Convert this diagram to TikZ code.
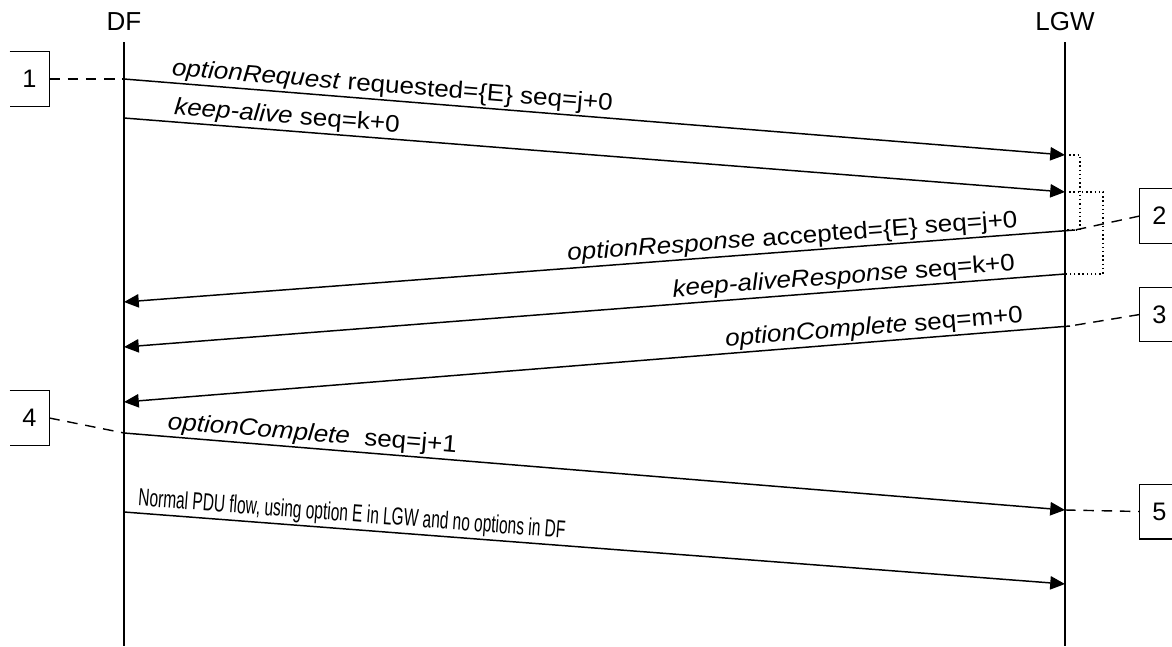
\documentclass[tikz,border=0pt]{standalone}
\usepackage{fontspec}
\setmainfont{Liberation Sans}
\newfontfamily\msgfont[FakeStretch=1.09]{Liberation Sans}
\newfontfamily\pdufont[FakeStretch=0.63]{Liberation Sans}
\usetikzlibrary{arrows.meta}

\tikzset{
  msg/.style={line width=1.05pt, -{Triangle[length=10.5pt,width=9.5pt]}},
  lifeline/.style={line width=1.05pt},
  lbl/.style={sloped, above, inner sep=1.2pt, font=\msgfont\fontsize{17}{19}\selectfont},
  refline/.style={dash pattern=on 7.5pt off 5.5pt, line width=1pt},
  holdline/.style={dotted, line width=1pt},
  numbox/.style={minimum width=0.975cm, minimum height=1.35cm, inner sep=0pt, font=\fontsize{18}{20}\selectfont},
}

\begin{document}
\begin{tikzpicture}[x=0.025cm, y=-0.025cm]
\useasboundingbox (0,0) rectangle (1172,646);
\clip (0,0) rectangle (1172,646);

% lifelines
\node [font=\fontsize{18.5}{20}\selectfont] (df) at (124,22) {DF};
\node [font=\fontsize{18.5}{20}\selectfont] (lgw) at (1065,22) {LGW};
\coordinate (dft) at (124,42);
\coordinate (dfb) at (124,646);
\coordinate (lgwt) at (1065,42);
\coordinate (lgwb) at (1065,646);
\draw [lifeline] (dft) -- (dfb);
\draw [lifeline] (lgwt) -- (lgwb);

% message ends
\coordinate (m1s) at (124,79);   \coordinate (m1e) at (1065,155);
\coordinate (m2s) at (124,118);  \coordinate (m2e) at (1065,192);
\coordinate (m3s) at (1075,230); \coordinate (m3e) at (124,302);
\coordinate (m4s) at (1065,274); \coordinate (m4e) at (124,347);
\coordinate (m5s) at (1070,326); \coordinate (m5e) at (124,402);
\coordinate (m6s) at (124,433);  \coordinate (m6e) at (1065,510);
\coordinate (m7s) at (124,512);  \coordinate (m7e) at (1065,584);

\draw [msg] (m1s) -- (m1e) node [lbl, pos=0.284] {\textit{optionRequest} requested=\{E\} seq=j+0};
\draw [msg] (m2s) -- (m2e) node [lbl, pos=0.172] {\textit{keep-alive} seq=k+0};
\draw [msg] (m3s) -- (m3e) node [lbl, pos=0.296] {\textit{optionResponse} accepted=\{E\} seq=j+0};
\draw [msg] (m4s) -- (m4e) node [lbl, pos=0.234] {\textit{keep-aliveResponse} seq=k+0};
\draw [msg] (m5s) -- (m5e) node [lbl, pos=0.206] {\textit{optionComplete} seq=m+0};
\draw [msg] (m6s) -- (m6e) node [lbl, pos=0.199] {\textit{optionComplete}\ \ seq=j+1};
\draw [msg] (m7s) -- (m7e) node [lbl, pos=0.241, font=\pdufont\fontsize{17.5}{19}\selectfont] {Normal PDU flow, using option E in LGW and no options in DF};

% dotted brackets at LGW
\coordinate (h1a) at (1080,155);
\coordinate (h1b) at (1080,230);
\coordinate (h1c) at (1065,230);
\coordinate (h2a) at (1103,192);
\coordinate (h2b) at (1103,274);
\draw [holdline] (m1e) -- (h1a) -- (h1b) -- (h1c);
\draw [holdline] (m2e) -- (h2a) -- (h2b) -- (m4s);

% numbered boxes
\node [numbox] (b1) at (29.5,79) {1};
\node [numbox] (b4) at (29.5,418) {4};
\node [numbox] (b2) at (1159.5,216) {2};
\node [numbox] (b3) at (1159.5,314.5) {3};
\node [numbox] (b5) at (1159.5,511.5) {5};
\draw [line width=1pt] (b1.north west) -- (b1.north east) -- (b1.south east) -- (b1.south west);
\draw [line width=1pt] (b4.north west) -- (b4.north east) -- (b4.south east) -- (b4.south west);
\draw [line width=1pt] (b2.north east) -- (b2.north west) -- (b2.south west) -- (b2.south east);
\draw [line width=1pt] (b3.north east) -- (b3.north west) -- (b3.south west) -- (b3.south east);
\draw [line width=1pt] (b5.north east) -- (b5.north west) -- (b5.south west) -- (b5.south east);

% references
\draw [refline] (b1.east) -- (m1s);
\draw [refline] (b2.west) -- (m3s);
\draw [refline] (b3.west) -- (m5s);
\draw [refline] (b4.east) -- (m6s);
\draw [refline] (m6e) -- (b5.west);
\end{tikzpicture}
\end{document}
